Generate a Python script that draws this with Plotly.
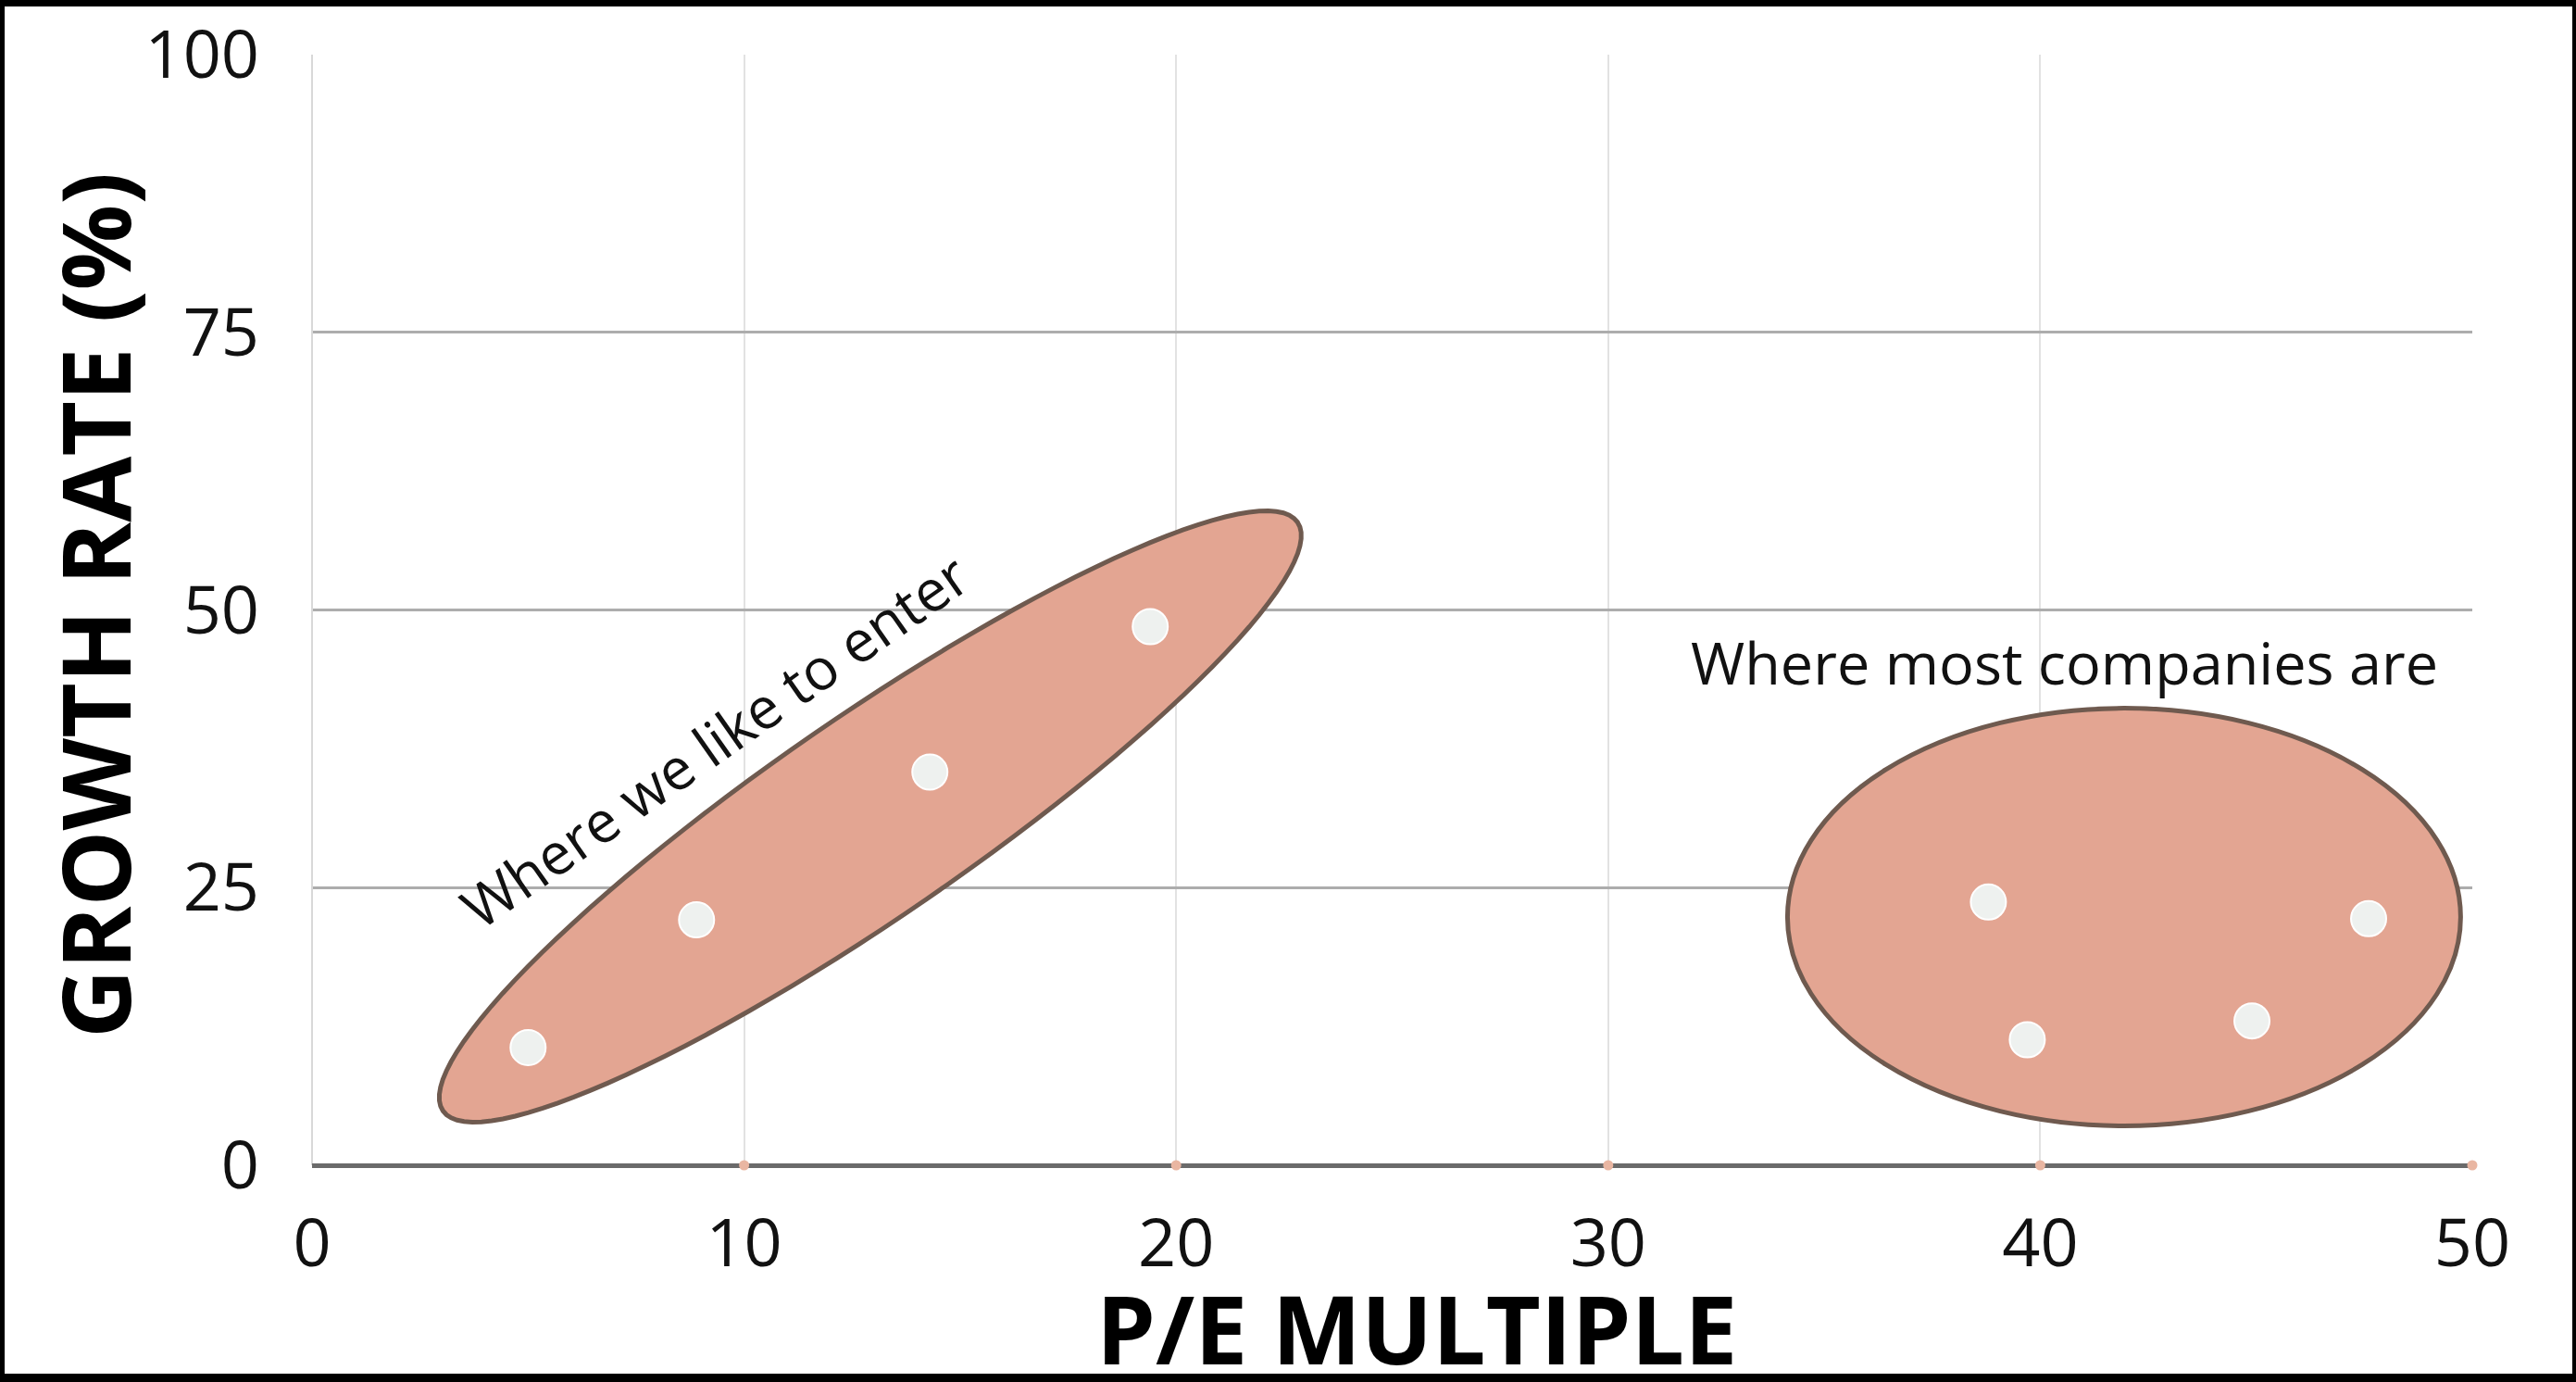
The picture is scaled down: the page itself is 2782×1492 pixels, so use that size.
import numpy as np
import plotly.graph_objects as go

# ---- data ----
enter_pe = [5.0, 8.9, 14.3, 19.4]
enter_growth = [10.6, 22.1, 35.4, 48.5]
most_pe = [38.8, 39.7, 44.9, 47.6]
most_growth = [23.7, 11.3, 13.0, 22.2]
tick_pe = [10, 20, 30, 40, 50]
tick_zero = [0, 0, 0, 0, 0]
x_ticks = [0, 10, 20, 30, 40, 50]
y_ticks = [0, 25, 50, 75, 100]

# region outlines (data coordinates)
enter_center = (12.92, 31.4)
enter_major = (9.89, 26.5)
enter_minor = (1.31, -7.42)
most_center = (41.94, 22.35)
most_radius = (7.79, 18.8)

label_enter = "Where we like to enter"
label_most = "Where most companies are"
x_title = "P/E MULTIPLE"
y_title = "GROWTH RATE (%)"

FILL = "#e3a592"
EDGE = "#6f5a4f"
FONT = "Open Sans"

t = np.linspace(0, 2 * np.pi, 121)
ex = enter_center[0] + enter_major[0] * np.cos(t) + enter_minor[0] * np.sin(t)
ey = enter_center[1] + enter_major[1] * np.cos(t) + enter_minor[1] * np.sin(t)
path = "M " + " L ".join(f"{a:.4f},{b:.4f}" for a, b in zip(ex, ey)) + " Z"

fig = go.Figure()

fig.add_trace(go.Scatter(
    x=tick_pe, y=tick_zero, mode="markers",
    marker=dict(size=11, color="#e9b6a2"), hoverinfo="skip", cliponaxis=False,
))
fig.add_trace(go.Scatter(
    x=enter_pe + most_pe, y=enter_growth + most_growth, mode="markers",
    marker=dict(size=38, color="#eef1ef", line=dict(color="#ffffff", width=2)),
))

W, H = 2782, 1492
L, R, T, B = 337, 112, 59, 234
pw, ph = W - L - R, H - T - B

shapes = [
    dict(type="rect", xref="paper", yref="paper", layer="below",
         x0=(5 - L) / pw, x1=(W - 4 - L) / pw,
         y0=(H - B - (H - 9)) / ph, y1=(H - B - 7) / ph,
         fillcolor="white", line=dict(width=0)),
    dict(type="path", xref="x", yref="y", path=path, layer="between",
         fillcolor=FILL, line=dict(color=EDGE, width=5)),
    dict(type="circle", xref="x", yref="y", layer="between",
         x0=most_center[0] - most_radius[0], x1=most_center[0] + most_radius[0],
         y0=most_center[1] - most_radius[1], y1=most_center[1] + most_radius[1],
         fillcolor=FILL, line=dict(color=EDGE, width=5)),
]

annotations = [
    dict(x=9.32, y=38.3, xref="x", yref="y", text=label_enter, showarrow=False,
         textangle=-35, font=dict(family=FONT, size=62, color="#111111")),
    dict(x=40.55, y=45.3, xref="x", yref="y", text=label_most, showarrow=False,
         font=dict(family=FONT, size=63, color="#111111")),
    dict(x=(1530 - L) / pw, y=(H - B - 1433) / ph, xref="paper", yref="paper",
         text=f"<b>{x_title}</b>", showarrow=False, xanchor="center", yanchor="middle",
         font=dict(family=FONT, size=102, color="#000000")),
    dict(x=(101 - L) / pw, y=(H - B - 654) / ph, xref="paper", yref="paper",
         text=f"<b>{y_title}</b>", showarrow=False, textangle=-90,
         xanchor="center", yanchor="middle",
         font=dict(family=FONT, size=103, color="#000000")),
]

fig.update_layout(
    width=W, height=H,
    margin=dict(l=L, r=R, t=T, b=B, autoexpand=False),
    paper_bgcolor="black", plot_bgcolor="white",
    showlegend=False,
    shapes=shapes, annotations=annotations,
    font=dict(family=FONT, color="#111111"),
    xaxis=dict(
        range=[0, 50], tickvals=x_ticks, showgrid=True, gridcolor="#e2e2e2", gridwidth=2,
        zeroline=True, zerolinecolor="#d8d8d8", zerolinewidth=2,
        showline=False, ticks="", tickfont=dict(family=FONT, size=72, color="#111111"),
        ticklabelstandoff=36,
    ),
    yaxis=dict(
        range=[0, 100], tickvals=y_ticks, showgrid=True, gridcolor="#adadad", gridwidth=3,
        zeroline=True, zerolinecolor="#6a6a6a", zerolinewidth=5,
        showline=False, ticks="", tickfont=dict(family=FONT, size=72, color="#111111"),
        ticklabelstandoff=56,
    ),
)

fig.write_html(
    "out.html",
    config={"displayModeBar": False},
    post_script="document.body.style.margin='0px';document.body.style.overflow='hidden';",
)
